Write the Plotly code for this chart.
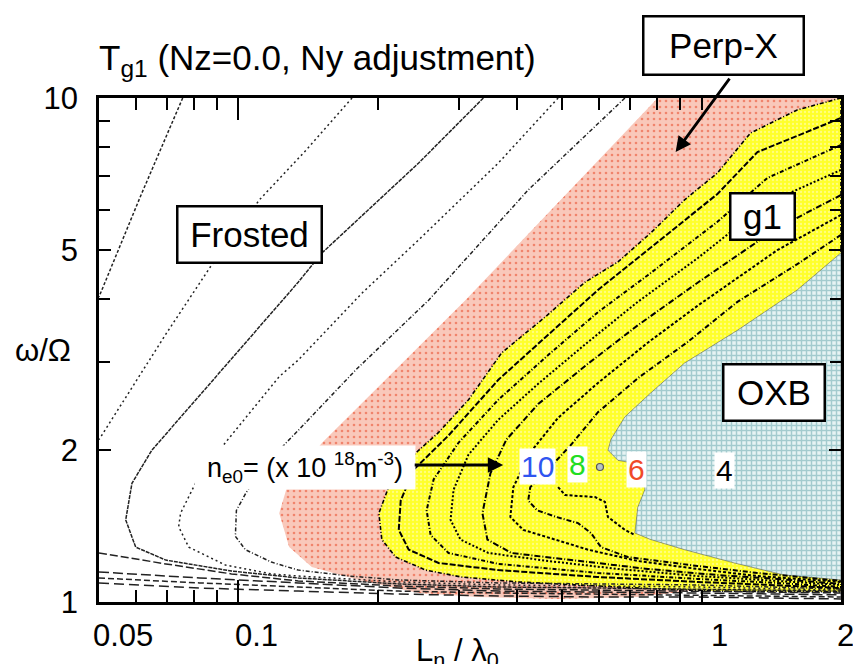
import numpy as np
import plotly.graph_objects as go

# ---------------- data (x = Ln/lambda0, y = omega/Omega) ----------------
# filled regions
perp_x = [0.804, 2.0, 2.0, 0.980, 0.728, 0.490, 0.330, 0.245, 0.182, 0.144, 0.1287, 0.1225, 0.1268, 0.1353, 0.1516, 0.309, 0.804]
perp_y = [10, 10, 1.056, 1.056, 1.023, 1.014, 1.023, 1.042, 1.106, 1.173, 1.285, 1.50, 1.67, 1.83, 2.07, 3.97, 10]

g1_x = [2.0, 1.609, 1.275, 1.082, 0.919, 0.777, 0.660, 0.560, 0.460, 0.370, 0.314, 0.2705, 0.245, 0.222, 0.211, 0.201, 0.204, 0.2186, 0.2536, 0.303, 0.402, 0.597, 0.804, 1.082, 2.0, 2.0]
g1_y = [10, 9.47, 8.52, 7.10, 6.28, 5.40, 4.73, 4.31, 3.68, 3.12, 2.52, 2.17, 2.00, 1.83, 1.69, 1.50, 1.33, 1.228, 1.157, 1.121, 1.096, 1.076, 1.061, 1.051, 1.047, 10]

oxb_x = [2.0, 1.609, 1.195, 0.919, 0.777, 0.683, 0.637, 0.628, 0.660, 0.704, 0.754, 0.754, 0.728, 0.718, 0.777, 0.919, 1.178, 1.509, 2.0, 2.0]
oxb_y = [4.93, 4.16, 3.46, 2.98, 2.60, 2.33, 2.10, 2.00, 1.91, 1.89, 1.80, 1.67, 1.54, 1.37, 1.33, 1.27, 1.195, 1.131, 1.106, 4.93]

# contour lines outside the g1 region
w1_x = [0.0758, 0.0614, 0.05]
w1_y = [10, 6.37, 4.03]
w2_x = [0.1759, 0.140, 0.111, 0.0875, 0.070, 0.0583, 0.05]
w2_y = [10, 7.88, 6.28, 4.66, 3.42, 2.63, 2.10]
w2_low_x = [0.05, 0.0697, 0.0966, 0.1346, 0.2219, 0.3641, 0.5974, 0.9803, 2.0]
w2_low_y = [1.251, 1.190, 1.137, 1.101, 1.076, 1.061, 1.056, 1.051, 1.042]
w1_low_x = [0.05, 0.0824, 0.1346, 0.2219, 0.3641, 0.5974, 0.9803, 2.0]
w1_low_y = [1.147, 1.116, 1.091, 1.066, 1.051, 1.047, 1.042, 1.033]
wa_x = [0.05, 0.0824, 0.1346, 0.2219, 0.3641, 0.5974, 0.9803, 2.0]
wa_y = [1.116, 1.091, 1.071, 1.051, 1.042, 1.037, 1.033, 1.023]
wb_x = [0.05, 0.0824, 0.1346, 0.2219, 0.3641, 0.5974, 0.9803, 2.0]
wb_y = [1.091, 1.066, 1.051, 1.037, 1.028, 1.023, 1.023, 1.014]
l3_x = [0.338, 0.245, 0.1516, 0.1346, 0.0937, 0.0650, 0.0589, 0.0571, 0.0600, 0.0697, 0.0966, 0.1346, 0.2219, 0.3641, 0.5974, 0.9803, 2.0]
l3_y = [10, 7.43, 4.93, 4.31, 2.94, 2.00, 1.72, 1.455, 1.285, 1.211, 1.152, 1.116, 1.086, 1.071, 1.066, 1.061, 1.051]
l4_x = [0.490, 0.3641, 0.245, 0.1848, 0.1346, 0.1225, 0.0937, 0.0820, 0.0750, 0.0743, 0.0781, 0.0937, 0.1178, 0.1346, 0.2219, 0.3641, 0.5974, 0.9803, 2.0]
l4_y = [10, 7.43, 5.23, 4.10, 3.02, 2.80, 2.07, 1.77, 1.50, 1.41, 1.285, 1.184, 1.137, 1.126, 1.096, 1.081, 1.076, 1.071, 1.056]
l5_x = [0.6832, 0.4224, 0.2574, 0.1794, 0.1346, 0.1268, 0.1121, 0.1040, 0.0990, 0.0985, 0.1035, 0.1178, 0.1346, 0.1733, 0.2219, 0.3641, 0.5974, 0.9803, 2.0]
l5_y = [10, 6.57, 3.97, 2.89, 2.19, 2.07, 1.83, 1.65, 1.52, 1.35, 1.27, 1.200, 1.157, 1.126, 1.106, 1.091, 1.086, 1.081, 1.061]

# contour lines inside the g1 region
y1_x = [2.0, 1.320, 1.082, 0.7653, 0.5974, 0.4664, 0.3641, 0.2842, 0.2390, 0.2241, 0.2219, 0.2332, 0.2705, 0.3641, 0.5974, 0.9803, 1.457, 2.0]
y1_y = [9.13, 7.81, 6.45, 4.99, 4.16, 3.39, 2.76, 2.14, 1.83, 1.59, 1.39, 1.27, 1.195, 1.157, 1.121, 1.096, 1.081, 1.066]
y2_x = [2.0, 1.387, 1.082, 0.7653, 0.5974, 0.4664, 0.3641, 0.2986, 0.2639, 0.2549, 0.2600, 0.2842, 0.3641, 0.5974, 0.9803, 1.457, 2.0]
y2_y = [8.07, 6.94, 5.68, 4.45, 3.76, 3.09, 2.52, 2.07, 1.75, 1.52, 1.358, 1.251, 1.190, 1.142, 1.111, 1.091, 1.071]
y3_x = [2.0, 1.387, 0.9803, 0.7283, 0.5685, 0.4438, 0.3641, 0.3138, 0.2914, 0.2871, 0.3016, 0.3465, 0.4664, 0.6596, 0.9803, 1.457, 2.0]
y3_y = [7.20, 6.19, 4.81, 3.94, 3.28, 2.71, 2.30, 1.96, 1.67, 1.455, 1.33, 1.251, 1.206, 1.163, 1.126, 1.101, 1.081]
y4_x = [2.0, 1.457, 0.9803, 0.7283, 0.5685, 0.4438, 0.3789, 0.3500, 0.3364, 0.3448, 0.3884, 0.5411, 0.7653, 1.082, 1.457, 2.0]
y4_y = [6.42, 5.52, 4.30, 3.54, 2.97, 2.47, 2.10, 1.80, 1.50, 1.33, 1.251, 1.206, 1.163, 1.131, 1.111, 1.086]
y5_x = [2.0, 1.457, 0.9803, 0.7653, 0.5974, 0.4900, 0.4267, 0.3923, 0.3865, 0.4122, 0.4829, 0.5685, 0.7283, 0.9803, 1.320, 2.0]
y5_y = [5.86, 4.99, 3.87, 3.27, 2.72, 2.32, 1.98, 1.69, 1.475, 1.39, 1.33, 1.27, 1.206, 1.163, 1.126, 1.096]
y6_x = [2.0, 1.609, 1.195, 0.9330, 0.7283, 0.5974, 0.5200, 0.4549, 0.4267, 0.4224, 0.4416, 0.4853, 0.5411, 0.5772, 0.6064, 0.6931, 0.9803, 1.320, 2.0]
y6_y = [5.35, 4.68, 3.94, 3.28, 2.78, 2.38, 2.04, 1.79, 1.69, 1.59, 1.52, 1.475, 1.434, 1.37, 1.285, 1.228, 1.179, 1.142, 1.101]
y7_x = [0.4900, 0.5075, 0.5886, 0.6185, 0.6277, 0.6832, 0.7176]
y7_y = [1.69, 1.63, 1.615, 1.58, 1.475, 1.39, 1.358]

# text labels
region_names = ["Frosted", "g1", "OXB"]
region_x = [0.1056, 1.353, 1.432]
region_y = [5.37, 5.83, 2.61]
density_text = ["10", "8", "6", "4"]
density_x = [0.4416, 0.5384, 0.7247, 1.123]
density_y = [1.853, 1.878, 1.828, 1.82]
density_colors = ["#2f55f0", "#22dd22", "#f04a28", "black"]
x_tick_vals = [0.05, 0.1, 1, 2]
x_tick_text = ["0.05", "0.1", "1", "2"]
y_tick_vals = [1, 2, 5, 10]
y_tick_text = ["1", "2", "5", "10"]

FONT = "Liberation Sans, Arial, Helvetica, sans-serif"

fig = go.Figure()

# regions
fig.add_trace(go.Scatter(x=perp_x, y=perp_y, mode="lines", fill="toself", line=dict(width=0),
                         fillcolor="#f8c4b6",
                         fillpattern=dict(shape=".", fgcolor="#e8401e", bgcolor="#f9c8ba", size=6, solidity=0.15),
                         hoverinfo="skip", showlegend=False))
fig.add_trace(go.Scatter(x=g1_x, y=g1_y, mode="lines", fill="toself", line=dict(width=1.6, color="black", dash="4px,2px,1px,2px"),
                         fillcolor="#ffff2e",
                         fillpattern=dict(shape=".", fgcolor="#fffbd8", bgcolor="#ffff2a", size=4, solidity=0.25),
                         hoverinfo="skip", showlegend=False))
fig.add_trace(go.Scatter(x=oxb_x, y=oxb_y, mode="lines", fill="toself", line=dict(width=0.8, color="rgba(60,60,60,0.6)"),
                         fillcolor="#c6e2e2",
                         fillpattern=dict(shape="+", fgcolor="#5fa3aa", bgcolor="#e6f3f3", size=5, solidity=0.5),
                         hoverinfo="skip", showlegend=False))

thin = [
    (w1_x, w1_y, "3px,2px"), (w2_x, w2_y, "2px,3px"), (w2_low_x, w2_low_y, "8px,3px"),
    (w1_low_x, w1_low_y, "10px,4px"), (wa_x, wa_y, "6px,3px"), (wb_x, wb_y, "10px,5px"),
    (l3_x, l3_y, "4px,1px"), (l4_x, l4_y, "2px,3px"), (l5_x, l5_y, "4px,2px,1px,2px"),
]
for xs, ys, d in thin:
    fig.add_trace(go.Scatter(x=xs, y=ys, mode="lines", line=dict(color="#222222", width=1.5, dash=d),
                             hoverinfo="skip", showlegend=False))

thick = [(y1_x, y1_y, "6px,2px"), (y2_x, y2_y, "4px,2px,1px,2px"), (y3_x, y3_y, "2px,2px"),
         (y4_x, y4_y, "6px,2px,1px,2px"), (y5_x, y5_y, "3px,2px"), (y6_x, y6_y, "5px,2px,1px,2px"),
         (y7_x, y7_y, "3px,2px")]
for xs, ys, d in thick:
    fig.add_trace(go.Scatter(x=xs, y=ys, mode="lines", line=dict(color="black", width=2, dash=d),
                             hoverinfo="skip", showlegend=False))

# small closed contour near "8"
fig.add_trace(go.Scatter(x=[0.6034], y=[1.853], mode="markers",
                         marker=dict(size=7, color="#b8c4c4", line=dict(color="#555", width=1.2)),
                         hoverinfo="skip", showlegend=False))

ann = []
# region boxes
box_sizes = [(142, 54), (62, 44), (99, 54)]
for t, xv, yv, (w, h) in zip(region_names, region_x, region_y, box_sizes):
    ann.append(dict(x=np.log10(xv), y=np.log10(yv), xref="x", yref="y", text=t, showarrow=False,
                    xanchor="center", yanchor="middle",
                    font=dict(family=FONT, size=35, color="black"), bgcolor="white",
                    bordercolor="black", borderwidth=2.5, borderpad=0, width=w, height=h))
# Perp-X box above plot with arrow
ann.append(dict(x=0.8416, y=1.105, xref="paper", yref="paper", xanchor="center", yanchor="middle",
                text="Perp-X", showarrow=False,
                font=dict(family=FONT, size=35, color="black"), bgcolor="white",
                bordercolor="black", borderwidth=2.5, borderpad=0, width=158, height=56))
ann.append(dict(x=np.log10(0.879), y=np.log10(7.81), xref="x", yref="y", text="", showarrow=True,
                ax=55, ay=-75, arrowhead=2, arrowsize=1.1, arrowwidth=2.8, arrowcolor="black"))
# density label with arrow
ann.append(dict(x=np.log10(0.1393), y=np.log10(1.845), xref="x", yref="y",
                xanchor="center", yanchor="middle",
                text="n<sub>e0</sub>= (x 10 <sup>18</sup>m<sup>-3</sup>)", showarrow=False,
                font=dict(family=FONT, size=27, color="black"), bgcolor="white", borderpad=0,
                width=220, height=43))
ann.append(dict(x=np.log10(0.373), y=np.log10(1.87), xref="x", yref="y", text="", showarrow=True,
                ax=-90, ay=0, arrowhead=2, arrowsize=1.1, arrowwidth=2.8, arrowcolor="black"))
for t, xv, yv, c in zip(density_text, density_x, density_y, density_colors):
    ann.append(dict(x=np.log10(xv), y=np.log10(yv), xref="x", yref="y", text=t, showarrow=False,
                    xanchor="center", yanchor="middle",
                    font=dict(family=FONT, size=30, color=c), bgcolor="white", borderpad=1))
# x tick labels
for v, t, s in zip(x_tick_vals, x_tick_text, [24, 18, 18, 4]):
    ann.append(dict(x=np.log10(v), y=0, xref="x", yref="paper", xanchor="center", yanchor="top",
                    yshift=-14, xshift=s,
                    text=t, showarrow=False, font=dict(family=FONT, size=31, color="black")))
# title and axis titles
ann.append(dict(x=-0.003, y=1.0, xref="paper", yref="paper", xanchor="left", yanchor="bottom", yshift=14,
                text="T<sub>g1</sub> (Nz=0.0, Ny adjustment)", showarrow=False,
                font=dict(family=FONT, size=35, color="black")))
ann.append(dict(x=-0.1154, y=0.5, xref="paper", yref="paper", xanchor="left", yanchor="middle",
                text="ω/Ω", showarrow=False, font=dict(family=FONT, size=31, color="black")))
ann.append(dict(x=0.424, y=0, xref="paper", yref="paper", xanchor="left", yanchor="top", yshift=-29,
                text="L<sub>n</sub> / λ<sub>0</sub>", showarrow=False, font=dict(family=FONT, size=31, color="black")))

fig.update_layout(
    width=853, height=664, margin=dict(l=99, r=9, t=98, b=62),
    paper_bgcolor="white", plot_bgcolor="white",
    font=dict(family=FONT, size=31, color="black"),
    annotations=ann,
    xaxis=dict(type="log", range=[np.log10(0.05), np.log10(2)], showgrid=False, zeroline=False,
               showline=True, linecolor="black", linewidth=2.5, mirror="ticks",
               ticks="inside", ticklen=22, tickwidth=2, tickcolor="black", tickvals=[0.1],
               showticklabels=False,
               minor=dict(ticks="inside", ticklen=12, tickwidth=2, tickcolor="black", showgrid=False,
                          tickvals=[0.06, 0.07, 0.08, 0.09, 0.2, 0.3, 0.4, 0.5, 0.6, 0.7, 0.8, 0.9, 1.0])),
    yaxis=dict(type="log", range=[0, 1], showgrid=False, zeroline=False,
               showline=True, linecolor="black", linewidth=2.5, mirror="ticks",
               ticks="inside", ticklen=12, tickwidth=2, tickcolor="black",
               tickvals=y_tick_vals, ticktext=y_tick_text, ticklabelstandoff=12,
               tickfont=dict(family=FONT, size=31, color="black"),
               minor=dict(ticks="inside", ticklen=11, tickwidth=2, tickcolor="black", showgrid=False,
                          tickvals=[3, 4, 6, 7, 8, 9])),
)

fig.write_html("out.html")
